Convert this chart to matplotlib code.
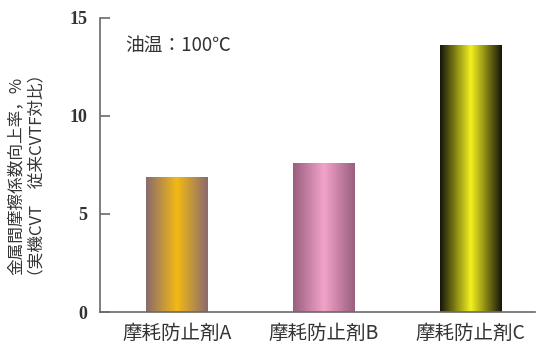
import matplotlib
matplotlib.use("Agg")
import matplotlib.pyplot as plt
import numpy as np
from matplotlib.colors import LinearSegmentedColormap
from matplotlib.patches import Rectangle

# ---- data -----------------------------------------------------------------
CATEGORIES = ["摩耗防止剤A", "摩耗防止剤B", "摩耗防止剤C"]
VALUES     = [6.9, 7.6, 13.6]
Y_TICKS    = [0, 5, 10, 15]

# edge colour -> centre colour for each cylinder-look bar
BAR_EDGE   = ["#8a6a6e", "#9a5f7e", "#15150a"]
BAR_CENTER = ["#f2b915", "#f2a2c8", "#f2f020"]

INK   = "#333333"
AXIS  = "#6a6a6a"
CJK   = ["Noto Sans CJK JP", "DejaVu Sans"]
SERIF = ["Liberation Serif", "DejaVu Serif"]

fig = plt.figure(figsize=(5.36, 3.51), dpi=100)
ax = fig.add_axes([0.1866, 0.111, 0.812, 0.838])

x = np.arange(len(CATEGORIES))
bar_w = 0.42
bars = ax.bar(x, VALUES, width=bar_w, color="none", linewidth=0, zorder=2)

# horizontal gradient (edge -> centre -> edge) clipped to each bar
grad = np.abs(np.linspace(-1, 1, 256))[None, :]
for rect, c_edge, c_mid in zip(bars, BAR_EDGE, BAR_CENTER):
    cmap = LinearSegmentedColormap.from_list("cyl", [c_mid, c_edge])
    x0, w, h = rect.get_x(), rect.get_width(), rect.get_height()
    im = ax.imshow(grad, cmap=cmap, aspect="auto", interpolation="bilinear",
                   extent=(x0, x0 + w, 0, h), zorder=2)
    clip = Rectangle((x0, 0), w, h, transform=ax.transData)
    im.set_clip_path(clip)

ax.set_xlim(-0.524, 2.44)
ax.set_ylim(0, 15)

# ---- axes styling -----------------------------------------------------------
for side in ("top", "right"):
    ax.spines[side].set_visible(False)
for side in ("left", "bottom"):
    ax.spines[side].set_color(AXIS)
    ax.spines[side].set_linewidth(1.2)

ax.set_yticks(Y_TICKS)
ax.set_yticklabels([str(t) for t in Y_TICKS], family=SERIF,
                   fontsize=13, fontweight="bold", color=INK)
ax.tick_params(axis="y", direction="in", length=7, width=1.2,
               color=AXIS, pad=9)

ax.set_xticks(x)
ax.set_xticklabels(CATEGORIES, family=CJK, fontsize=14, color=INK)
ax.tick_params(axis="x", length=0, pad=8)

ax.text(-0.35, 13.6, "油温：100℃", family=CJK, fontsize=13.5,
        color=INK, ha="left", va="center")

# two-line vertical axis title
fig.text(0.030, 0.50, "金属間摩擦係数向上率，%", family=CJK, fontsize=12,
         color=INK, rotation=90, ha="center", va="center")
fig.text(0.069, 0.50, "（実機CVT　従来CVTF対比）", family=CJK, fontsize=12,
         color=INK, rotation=90, ha="center", va="center")

fig.savefig("out.png", dpi=100, facecolor="white")
